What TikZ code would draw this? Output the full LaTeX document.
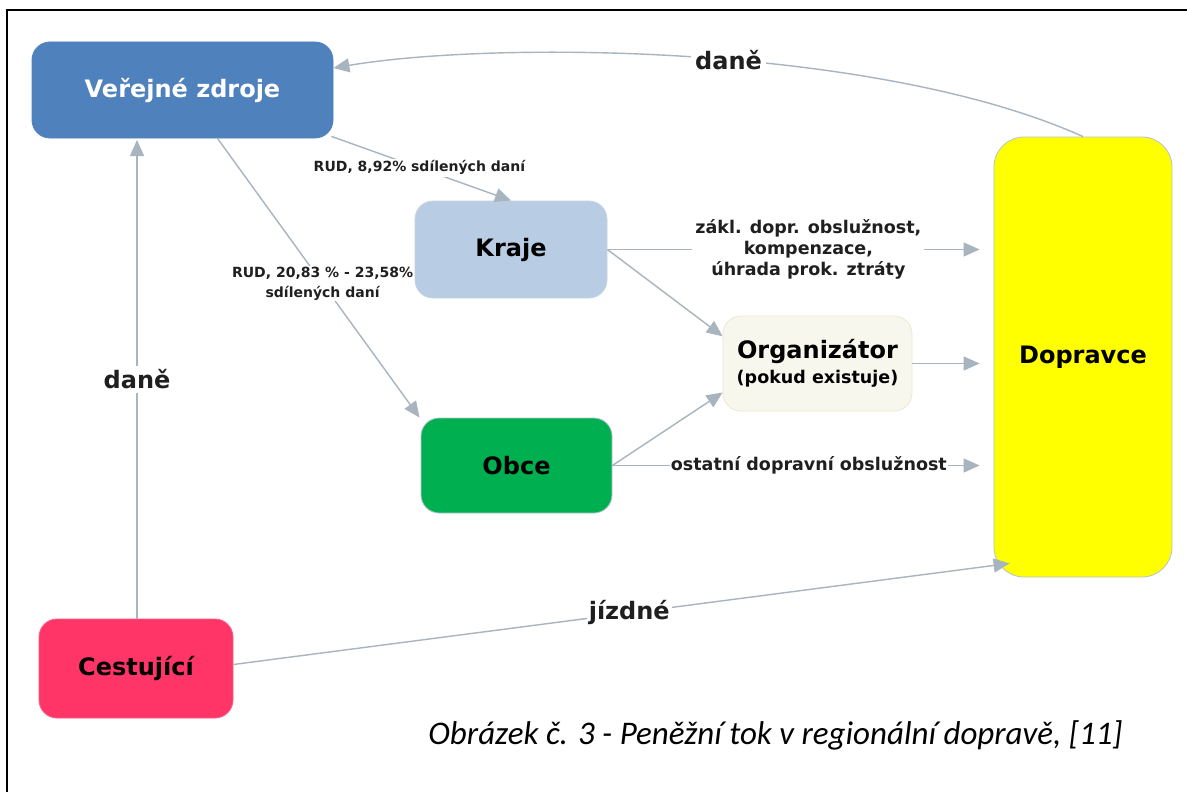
\documentclass[tikz,border=0pt]{standalone}
\usepackage{fontspec}
\setmainfont{DejaVu Sans}
\newfontfamily\capfont{Carlito}
\usetikzlibrary{arrows.meta,calc}
\definecolor{vzc}{HTML}{4F81BD}
\definecolor{krc}{HTML}{B8CCE4}
\definecolor{obc}{HTML}{00B050}
\definecolor{orc}{HTML}{F8F7EE}
\definecolor{orb}{HTML}{EEE8CF}
\definecolor{dpc}{HTML}{FFFF00}
\definecolor{cec}{HTML}{FE3566}
\definecolor{edgec}{HTML}{A8B4BE}
\definecolor{bordc}{HTML}{B4C2CE}
\tikzset{
  box/.style={rounded corners=18pt, inner sep=0pt, align=center, font=\bfseries\fontsize{24}{28}\selectfont, draw=bordc, line width=0.8pt},
  arr/.style={draw=edgec, line width=1.4pt, -{Triangle[length=16pt,width=14pt]}},
  lbl/.style={fill=white, inner sep=2pt, font=\bfseries\fontsize{14}{20}\selectfont, align=center, text=black!88},
  mlbl/.style={fill=white, inner sep=3pt, font=\bfseries\fontsize{17.5}{21}\selectfont, align=center, text=black!88},
  blbl/.style={fill=white, inner sep=4pt, font=\bfseries\fontsize{24}{28}\selectfont, text=black!88}
}
\begin{document}
\begin{tikzpicture}[x=1pt,y=-1pt]
\useasboundingbox (0,0) rectangle (1187,792);
\fill[white] (0,0) rectangle (1187,792);
\draw[black, line width=2pt] (7,792) -- (7,10) -- (1187,10);

\node[box, fill=vzc, draw=vzc, text=white, minimum width=301pt, minimum height=96pt] (vz) at (182.5,90) {Veřejné zdroje};
\node[box, fill=krc, draw=krc!90!black!60, minimum width=192pt, minimum height=97pt] (kr) at (511,249.5) {Kraje};
\node[box, fill=obc, draw=bordc, minimum width=191pt, minimum height=95pt] (ob) at (516.5,465.5) {Obce};
\node[box, fill=orc, draw=orb, minimum width=189pt, minimum height=95pt] (org) at (817.5,363.5) {Organizátor\\[-3pt]{\fontsize{17.5}{20}\selectfont (pokud existuje)}};
\node[box, rounded corners=30pt, fill=dpc, draw=bordc, minimum width=178pt, minimum height=440pt] (dop) at (1083,357) {Dopravce};
\node[box, fill=cec, draw=cec!80!white, minimum width=194pt, minimum height=99pt] (ces) at (136,668.5) {Cestující};

% daně (left)
\draw[arr] (ces.north -| 137,0) -- (137,140) node[pos=0.5, blbl] {daně};
% daně (top curve)
\draw[arr] (dop.north) .. controls (880,45) and (500,40) .. ([yshift=22pt]vz.east) node[pos=0.46, blbl] {daně};
% RUD to Kraje
\draw[arr] ([xshift=-2pt,yshift=2pt]vz.south east) -- (kr.north) node[pos=0.49, lbl] {RUD, 8,92\% sdílených daní};
% RUD to Obce
\draw[arr] ([xshift=35pt]vz.south) -- ([xshift=-1pt]ob.north west) node[pos=0.52, lbl, inner sep=1pt] {RUD, 20,83 \% - 23,58\%\\sdílených daní};
% Kraje to Dopravce
\draw[arr] (kr.east) -- ([xshift=-14pt]kr.east -| dop.west) node[pos=0.54, mlbl] {zákl. dopr. obslužnost,\\kompenzace,\\úhrada prok. ztráty};
% Kraje to Organizator
\draw[arr] (kr.east) -- (org.164);
% Organizator to Dopravce
\draw[arr] (org.east) -- ([xshift=-14pt]org.east -| dop.west);
% Obce to Organizator
\draw[arr] (ob.east) -- (org.197);
% Obce to Dopravce
\draw[arr] (ob.east) -- ([xshift=-14pt]ob.east -| dop.west) node[pos=0.535, mlbl, inner sep=1pt] {ostatní dopravní obslužnost};
% Cestujici to Dopravce
\draw[arr] ([yshift=4pt]ces.east) -- ([shift={(16pt,14pt)}]dop.south west) node[pos=0.51, blbl, inner sep=2pt] {jízdné};

% caption
\node[font=\capfont\itshape\fontsize{33}{38}\selectfont, anchor=center] (cap) at (775.5,735) {Obrázek č. 3 - Peněžní tok v regionální dopravě, [11]};
\end{tikzpicture}
\end{document}
